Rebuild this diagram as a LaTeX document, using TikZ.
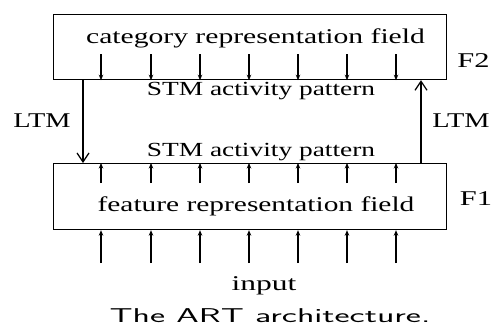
\documentclass[tikz,border=0pt]{standalone}
\usepackage{fontspec}
\setmainfont{Liberation Serif}
\usetikzlibrary{arrows.meta,calc}
\begin{document}
\begin{tikzpicture}[x=1pt,y=-1pt,
  field/.style={draw,line width=1.2pt,minimum width=393pt,anchor=north west,inner sep=0pt},
  small/.style={line width=1.1pt,-{Stealth[length=5.5pt,width=4.5pt]}},
  ltm/.style={line width=1.3pt,-{Straight Barb[length=9pt,width=12pt,line width=1.2pt]}},
  txt/.style={font=\fontsize{21}{23}\selectfont,inner sep=0pt,anchor=base}]
\useasboundingbox (0,0) rectangle (492,327);
\node[field,minimum height=65pt] (top) at (53,14) {};
\node[field,minimum height=66pt] (bot) at (53,163) {};
\node[txt] (cat) at (255.5,43) {\scalebox{1.41}[1]{category representation field}};
\node[txt] (feat) at (256,211) {\scalebox{1.40}[1]{feature representation field}};
\node[txt] (f2) at (473.5,67) {\scalebox{1.45}[1]{F2}};
\node[txt] (f1) at (476,205) {\scalebox{1.45}[1]{F1}};
\node[txt,font=\fontsize{20}{22}\selectfont] (stm1) at (261,95) {\scalebox{1.37}[1]{STM activity pattern}};
\node[txt,font=\fontsize{20}{22}\selectfont] (stm2) at (261,156) {\scalebox{1.37}[1]{STM activity pattern}};
\node[txt] (ltml) at (42,127) {\scalebox{1.35}[1]{LTM}};
\node[txt] (ltmr) at (461,127) {\scalebox{1.35}[1]{LTM}};
\node[txt] (inp) at (264,290) {\scalebox{1.5}[1]{input}};
\node[txt,font=\sffamily\fontsize{20}{22}\selectfont] (cap) at (270,322) {\scalebox{1.8}[1]{The ART architecture.}};
\foreach \x in {101,151,200,249,298,347,396}{
  \coordinate (a\x) at (\x,54);
  \draw[small] (a\x) -- (top.south -| a\x);
  \coordinate (b\x) at (\x,183);
  \draw[small] (b\x) -- (bot.north -| b\x);
  \coordinate (c\x) at (\x,263);
  \draw[small] (c\x) -- (bot.south -| c\x);
}
\coordinate (lx) at (83,0);
\coordinate (rx) at (421,0);
\draw[ltm] (top.south -| lx) -- (bot.north -| lx);
\draw[ltm] (bot.north -| rx) -- (top.south -| rx);
\end{tikzpicture}
\end{document}
